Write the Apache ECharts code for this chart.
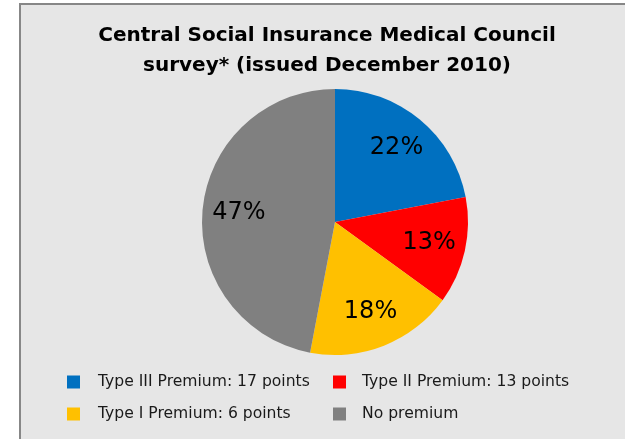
<!DOCTYPE html>
<html>
<head>
<meta charset="utf-8">
<script src="https://cdn.jsdelivr.net/npm/echarts@6/dist/echarts.min.js"></script>
<style>
  html, body { margin: 0; padding: 0; background: #fff; }
  #frame {
    position: absolute; left: 19px; top: 3px; width: 640px; height: 460px;
    background: #e6e6e6; border: 2px solid #878787;
  }
  #chart { position: absolute; left: 0; top: 0; width: 625px; height: 439px; }
</style>
</head>
<body>
<div id="frame"></div>
<div id="chart"></div>
<script>
// 数据
const categories = [
  'Type III Premium: 17 points',
  'Type II Premium: 13 points',
  'Type I Premium: 6 points',
  'No premium'
];
const shares = [22, 13, 18, 47];
const colors = ['#0070c0', '#ff0000', '#ffc000', '#808080'];

const titleText = 'Central Social Insurance Medical Council\nsurvey* (issued December 2010)';
const font = '"DejaVu Sans", Verdana, sans-serif';

const pieData = categories.map((name, i) => ({
  name,
  value: shares[i],
  itemStyle: { color: colors[i] }
}));

const chart = echarts.init(document.getElementById('chart'), null, { renderer: 'canvas' });

// 图例公共样式
function legendAt(left, textPad, data) {
  return {
    orient: 'vertical',
    left,
    top: 374,
    padding: 0,
    itemWidth: 13,
    itemHeight: 13,
    itemGap: 16,
    icon: 'rect',
    selectedMode: false,
    data,
    textStyle: {
      fontFamily: font,
      fontSize: 15.6,
      lineHeight: 16,
      color: '#1a1a1a',
      padding: [0, 0, 0, textPad]
    }
  };
}

chart.setOption({
  backgroundColor: 'transparent',
  animation: false,
  title: {
    text: titleText,
    left: 327,
    top: 21,
    padding: 0,
    textAlign: 'center',
    textStyle: {
      fontFamily: font,
      fontWeight: 'bold',
      fontSize: 20,
      lineHeight: 30,
      color: '#000'
    }
  },
  legend: [
    legendAt(67, 13, [categories[0], categories[2]]),
    legendAt(333, 11, [categories[1], categories[3]])
  ],
  series: [
    {
      type: 'pie',
      center: [335, 222],
      radius: [0, 133],
      startAngle: 90,
      clockwise: true,
      silent: true,
      label: { show: false },
      labelLine: { show: false },
      data: pieData
    },
    {
      // 标签层
      type: 'pie',
      center: [335, 222],
      radius: [54, 133],
      startAngle: 90,
      clockwise: true,
      silent: true,
      itemStyle: { color: 'rgba(0,0,0,0)' },
      label: {
        show: true,
        position: 'inside',
        fontFamily: font,
        fontSize: 24,
        color: '#000',
        formatter: (p) => Math.round(p.percent) + '%'
      },
      labelLine: { show: false },
      data: categories.map((name, i) => ({ name, value: shares[i] }))
    }
  ]
});
</script>
</body>
</html>
